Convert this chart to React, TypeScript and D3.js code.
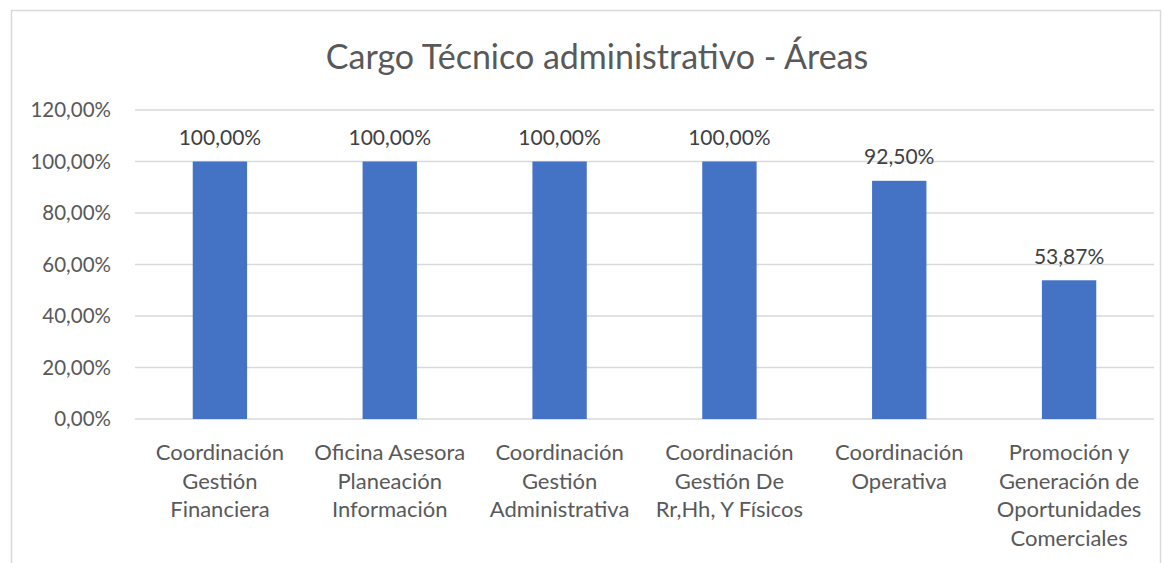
import React, { useEffect, useRef } from "react";
import * as d3 from "d3";

const categories = [
  "Coordinación Gestión Financiera",
  "Oficina Asesora Planeación Información",
  "Coordinación Gestión Administrativa",
  "Coordinación Gestión De Rr,Hh, Y Físicos",
  "Coordinación Operativa",
  "Promoción y Generación de Oportunidades Comerciales",
];
const categoryLines = [
  ["Coordinación", "Gestión", "Financiera"],
  ["Oficina Asesora", "Planeación", "Información"],
  ["Coordinación", "Gestión", "Administrativa"],
  ["Coordinación", "Gestión De", "Rr,Hh, Y Físicos"],
  ["Coordinación", "Operativa"],
  ["Promoción y", "Generación de", "Oportunidades", "Comerciales"],
];
const values = [1.0, 1.0, 1.0, 1.0, 0.925, 0.5387];
const yTicks = [0, 0.2, 0.4, 0.6, 0.8, 1.0, 1.2];
const title = "Cargo Técnico administrativo - Áreas";

const W = 1165;
const H = 563;
const FONT = "Lato, 'Open Sans', sans-serif";
const TEXT = "#595959";

const pct = (v: number) => d3.format(".2f")(v * 100).replace(".", ",") + "%";

export default function App() {
  const ref = useRef<SVGSVGElement>(null);

  useEffect(() => {
    const svg = d3.select(ref.current);
    svg.selectAll("*").remove();

    const margin = { left: 135, right: 11, top: 110, bottom: 144 };

    svg
      .append("rect")
      .attr("x", 11.5)
      .attr("y", 10.5)
      .attr("width", W - 16)
      .attr("height", H)
      .attr("fill", "#fff")
      .attr("stroke", "#d9d9d9")
      .attr("stroke-width", 1.5);

    svg
      .append("text")
      .attr("x", 597)
      .attr("y", 69)
      .attr("text-anchor", "middle")
      .attr("font-family", FONT)
      .attr("font-size", 34)
      .attr("fill", TEXT)
      .text(title);

    const x = d3
      .scaleBand<string>()
      .domain(categories)
      .range([margin.left, W - margin.right])
      .paddingInner(0.68)
      .paddingOuter(0.34);

    const y = d3
      .scaleLinear()
      .domain([0, 1.2])
      .range([H - margin.bottom, margin.top]);

    const grid = svg.append("g");
    grid
      .selectAll("line")
      .data(yTicks)
      .join("line")
      .attr("x1", margin.left)
      .attr("x2", W - margin.right)
      .attr("y1", (d) => y(d))
      .attr("y2", (d) => y(d))
      .attr("stroke", "#d9d9d9")
      .attr("stroke-width", 1.5);

    svg
      .append("g")
      .selectAll("text")
      .data(yTicks)
      .join("text")
      .attr("x", 111)
      .attr("y", (d) => y(d))
      .attr("dy", "0.35em")
      .attr("text-anchor", "end")
      .attr("font-family", FONT)
      .attr("font-size", 20.5)
      .attr("fill", TEXT)
      .text((d) => pct(d));

    svg
      .append("g")
      .selectAll("rect")
      .data(values)
      .join("rect")
      .attr("x", (_, i) => x(categories[i])!)
      .attr("y", (d) => y(d))
      .attr("width", x.bandwidth())
      .attr("height", (d) => y(0) - y(d))
      .attr("fill", "#4472c4");

    svg
      .append("g")
      .selectAll("text")
      .data(values)
      .join("text")
      .attr("x", (_, i) => x(categories[i])! + x.bandwidth() / 2)
      .attr("y", (d) => y(d) - 16.5)
      .attr("text-anchor", "middle")
      .attr("font-family", FONT)
      .attr("font-size", 21)
      .attr("fill", "#404040")
      .text((d) => pct(d));

    const labels = svg
      .append("g")
      .selectAll("text")
      .data(categoryLines)
      .join("text")
      .attr("text-anchor", "middle")
      .attr("font-family", FONT)
      .attr("font-size", 22)
      .attr("fill", TEXT);
    labels
      .selectAll("tspan")
      .data((d, i) => d.map((line) => ({ line, i })))
      .join("tspan")
      .attr("x", (d) => x(categories[d.i])! + x.bandwidth() / 2)
      .attr("y", (_, j) => 460 + j * 28.5)
      .text((d) => d.line);
  }, []);

  return (
    <svg
      ref={ref}
      width={W}
      height={H}
      style={{ position: "absolute", left: 0, top: 0, background: "#fff" }}
    />
  );
}
